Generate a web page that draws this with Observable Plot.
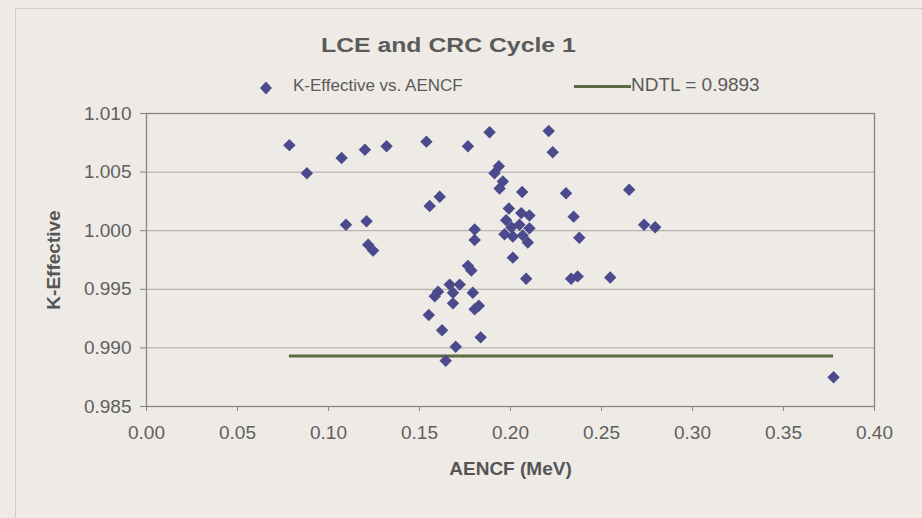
<!DOCTYPE html>
<html>
<head>
<meta charset="utf-8">
<script src="https://cdn.jsdelivr.net/npm/d3@7"></script>
<script src="https://cdn.jsdelivr.net/npm/@observablehq/plot@0.6"></script>
<style>
  html, body { margin: 0; padding: 0; background: #eeebe6; }
  #wrap { position: relative; width: 922px; height: 518px; overflow: hidden; font-family: "Liberation Sans", Arial, sans-serif; color: #5a5a5a; }
  #border { position: absolute; left: 15px; top: 8px; width: 960px; height: 560px; border: 1px solid #cfccc6; box-sizing: border-box; }
  #title { position: absolute; left: 339px; width: 200px; top: 33px; text-align: center; font-weight: bold; font-size: 21px; white-space: nowrap; transform: scaleX(1.18); transform-origin: 50% 50%; }
  .leg { position: absolute; font-size: 17px; top: 76px; white-space: nowrap; }
  #chart { position: absolute; left: 0; top: 0; }
</style>
</head>
<body>
<div id="wrap">
  <div id="border"></div>
  <div id="chart"></div>
  <div id="title">LCE and CRC Cycle 1</div>
  <svg style="position:absolute;left:258px;top:80px" width="16" height="16"><path d="M8,1.5 L14,8 L8,14.5 L2,8 Z" fill="#4a4a8c"/></svg>
  <div class="leg" id="leg1" style="left:293px">K-Effective vs. AENCF</div>
  <svg style="position:absolute;left:574px;top:84px" width="58" height="5"><line x1="0" x2="57" y1="2.5" y2="2.5" stroke="#5d6b40" stroke-width="3"/></svg>
  <div class="leg" id="leg2" style="left:631px; font-size:19px; top:74px">NDTL = 0.9893</div>
</div>
<script>
const aencf = [
  0.0785, 0.0881, 0.1072, 0.1200, 0.1319, 0.1096, 0.1209, 0.1218, 0.1245,
  0.1538, 0.1766, 0.1885, 0.2210, 0.2232, 0.1936, 0.1912, 0.1958, 0.1940,
  0.2064, 0.2305, 0.2652, 0.1611, 0.1556, 0.2347, 0.2734, 0.2795, 0.2378,
  0.1803, 0.1803, 0.1991, 0.2059, 0.2104, 0.1976, 0.2049, 0.1967, 0.2013,
  0.2095, 0.2067, 0.2013, 0.2005, 0.2104, 0.2086, 0.2333, 0.2369, 0.2548,
  0.1766, 0.1785, 0.1602, 0.1584, 0.1666, 0.1721, 0.1684, 0.1684, 0.1793,
  0.1826, 0.1803, 0.1551, 0.1624, 0.1836, 0.1699, 0.1644, 0.3775
];
const keff = [
  1.0073, 1.0049, 1.0062, 1.0069, 1.0072, 1.0005, 1.0008, 0.9988, 0.9983,
  1.0076, 1.0072, 1.0084, 1.0085, 1.0067, 1.0055, 1.0049, 1.0042, 1.0036,
  1.0033, 1.0032, 1.0035, 1.0029, 1.0021, 1.0012, 1.0005, 1.0003, 0.9994,
  1.0001, 0.9992, 1.0019, 1.0015, 1.0013, 1.0009, 1.0005, 0.9997, 0.9995,
  0.9990, 0.9996, 0.9977, 1.0003, 1.0002, 0.9959, 0.9959, 0.9961, 0.9960,
  0.9970, 0.9966, 0.9948, 0.9944, 0.9954, 0.9954, 0.9947, 0.9938, 0.9947,
  0.9936, 0.9933, 0.9928, 0.9915, 0.9909, 0.9901, 0.9889, 0.9875
];
const ndtl = 0.9893;
const xTicks = [0.00, 0.05, 0.10, 0.15, 0.20, 0.25, 0.30, 0.35, 0.40];
const yTicks = [0.985, 0.990, 0.995, 1.000, 1.005, 1.010];
const xTitle = "AENCF (MeV)";
const yTitle = "K-Effective";

const points = aencf.map((x, i) => ({x, y: keff[i]}));

const chart = Plot.plot({
  width: 922,
  height: 518,
  marginLeft: 146,
  marginRight: 48,
  marginTop: 113,
  marginBottom: 112,
  style: {background: "transparent", color: "#5f5f5f", fontFamily: "'Liberation Sans', Arial, sans-serif"},
  x: {domain: [0, 0.40]},
  y: {domain: [0.985, 1.010]},
  marks: [
    Plot.gridY(yTicks, {stroke: "#aaa7a1", strokeOpacity: 1, strokeWidth: 1}),
    Plot.frame({stroke: "#858585", strokeWidth: 1.3}),
    Plot.axisX(xTicks, {tickFormat: d3.format(".2f"), tickSize: 5, tickPadding: 14, fontSize: 19, label: null, stroke: "#858585"}),
    Plot.axisY(yTicks, {tickFormat: d3.format(".3f"), tickSize: 6, tickPadding: 9, fontSize: 19, label: null, stroke: "#858585"}),
    Plot.ruleY([ndtl], {x1: d3.min(aencf), x2: d3.max(aencf), stroke: "#5d6b40", strokeWidth: 3}),
    Plot.dot(points, {x: "x", y: "y", symbol: "diamond2", r: 5.6, fill: "#4a4a8c", stroke: "none"}),
    Plot.text([xTitle], {frameAnchor: "bottom", dy: 68, fontSize: 19, fontWeight: "bold", fill: "#555"}),
    Plot.text([yTitle], {frameAnchor: "left", dx: -93, rotate: -90, textAnchor: "middle", fontSize: 19, fontWeight: "bold", fill: "#555"})
  ]
});
document.getElementById("chart").appendChild(chart);
</script>
</body>
</html>
